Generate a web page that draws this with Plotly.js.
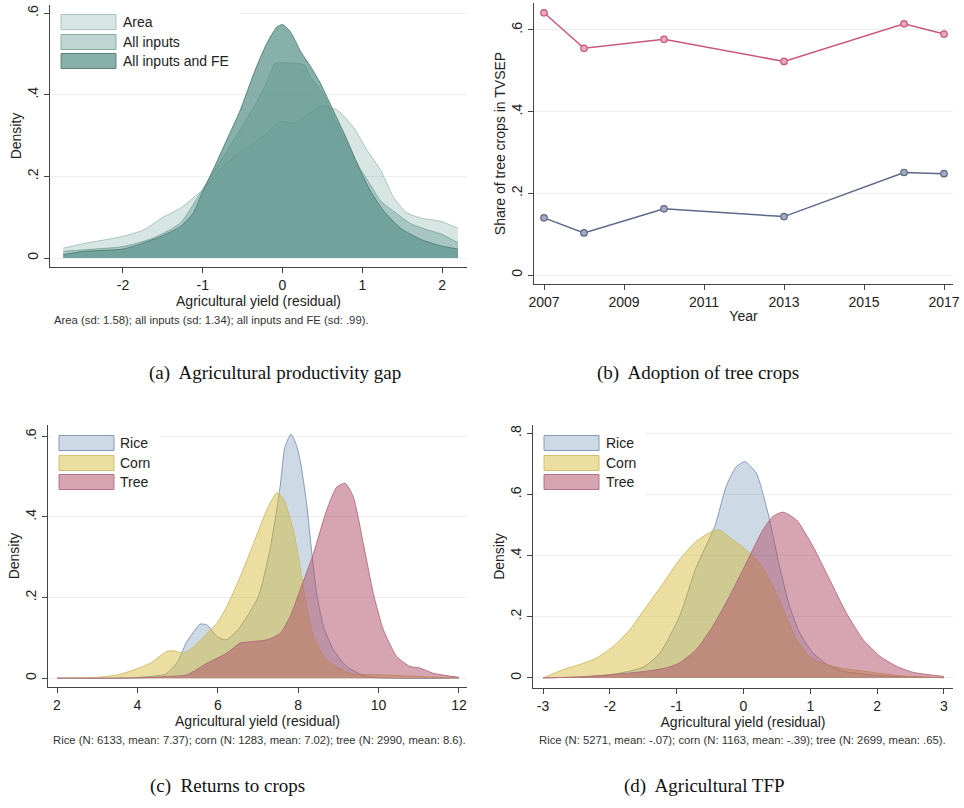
<!DOCTYPE html>
<html>
<head>
<meta charset="utf-8">
<script src="https://cdn.plot.ly/plotly-3.0.1.min.js"></script>
<style>html,body{margin:0;padding:0;background:#fff;}#chart{width:964px;height:808px;}</style>
</head>
<body>
<div id="chart"></div>
<script>
// ---------- Panel (a): Agricultural productivity gap ----------
const aAreaX = [-2.75,-2.5,-2.0,-1.74,-1.5,-1.28,-1.12,-1.0,-0.82,-0.61,-0.36,-0.2,-0.03,0.14,0.31,0.5,0.69,0.89,1.06,1.23,1.39,1.55,1.73,1.98,2.2];
const aAreaY = [0.024,0.035,0.053,0.069,0.1,0.122,0.147,0.167,0.208,0.248,0.281,0.305,0.335,0.33,0.35,0.373,0.362,0.32,0.264,0.215,0.15,0.112,0.098,0.09,0.073];
const aInputsX = [-2.75,-2.5,-2.0,-1.62,-1.28,-1.03,-0.87,-0.61,-0.36,-0.2,-0.09,0.05,0.27,0.35,0.52,0.64,0.81,0.97,1.1,1.23,1.39,1.6,1.8,2.0,2.2];
const aInputsY = [0.016,0.02,0.028,0.049,0.086,0.159,0.21,0.289,0.37,0.43,0.477,0.478,0.473,0.444,0.4,0.345,0.28,0.22,0.18,0.14,0.115,0.085,0.07,0.058,0.037];
const aFEX = [-2.75,-2.5,-2.0,-1.74,-1.5,-1.28,-1.12,-1.0,-0.87,-0.7,-0.53,-0.36,-0.2,-0.07,0.0,0.1,0.23,0.35,0.47,0.64,0.81,0.97,1.1,1.27,1.48,1.73,1.98,2.2];
const aFEY = [0.008,0.016,0.022,0.037,0.055,0.077,0.11,0.163,0.216,0.289,0.362,0.452,0.525,0.566,0.572,0.554,0.505,0.47,0.43,0.36,0.289,0.216,0.165,0.115,0.073,0.046,0.03,0.022];
const aNames = ["Area","All inputs","All inputs and FE"];
const aTicks = [-2,-1,0,1,2];
const aYTicks = [0,0.2,0.4,0.6];
const aYText = ["0",".2",".4",".6"];

// ---------- Panel (b): Adoption of tree crops ----------
const bYears = [2007,2008,2010,2013,2016,2017];
const bRed = [0.642,0.555,0.577,0.523,0.615,0.590];
const bBlue = [0.140,0.103,0.162,0.143,0.251,0.248];
const bTicks = [2007,2009,2011,2013,2015,2017];
const bYTicks = [0,0.2,0.4,0.6];
const bYText = ["0",".2",".4",".6"];

// ---------- Panel (c): Returns to crops ----------
const cRiceX = [2.0,3.0,4.0,4.7,5.0,5.2,5.4,5.56,5.73,5.98,6.2,6.5,7.0,7.3,7.55,7.67,7.82,7.95,8.05,8.21,8.34,8.46,8.63,8.88,9.21,9.7,12];
const cRiceY = [0,0,0.002,0.01,0.04,0.085,0.115,0.134,0.132,0.103,0.095,0.12,0.2,0.32,0.474,0.573,0.605,0.58,0.54,0.433,0.31,0.21,0.128,0.07,0.029,0.004,0];
const cCornX = [2.0,3.0,3.5,3.9,4.32,4.73,4.9,5.15,5.4,5.73,5.98,6.22,6.56,6.89,7.22,7.47,7.63,7.88,8.05,8.21,8.38,8.71,9.29,10.12,10.95,12];
const cCornY = [0,0.002,0.008,0.02,0.037,0.066,0.068,0.062,0.078,0.111,0.136,0.177,0.252,0.334,0.417,0.46,0.446,0.367,0.276,0.177,0.103,0.045,0.012,0.008,0.004,0];
const cTreeX = [2.0,3.9,4.73,5.23,5.73,6.22,6.56,6.89,7.22,7.55,7.8,8.05,8.38,8.71,8.96,9.17,9.37,9.62,9.87,10.12,10.45,10.78,11.03,11.36,12];
const cTreeY = [0,0,0.004,0.008,0.037,0.062,0.087,0.091,0.095,0.111,0.153,0.219,0.309,0.417,0.474,0.483,0.45,0.334,0.21,0.12,0.054,0.029,0.025,0.012,0.002];
const cTicks = [2,4,6,8,10,12];
const cYTicks = [0,0.2,0.4,0.6];
const cYText = ["0",".2",".4",".6"];

// ---------- Panel (d): Agricultural TFP ----------
const dRiceX = [-3,-2.5,-2,-1.5,-1.25,-0.96,-0.71,-0.43,-0.26,-0.11,0.02,0.19,0.29,0.39,0.54,0.69,0.84,1.04,1.29,1.54,2,2.5,3];
const dRiceY = [0,0.003,0.01,0.035,0.082,0.2,0.36,0.495,0.626,0.69,0.707,0.67,0.604,0.517,0.364,0.234,0.147,0.082,0.038,0.02,0.008,0.003,0.001];
const dCornX = [-3,-2.7,-2.45,-2.2,-1.95,-1.7,-1.45,-1.2,-0.96,-0.71,-0.46,-0.36,-0.16,0.04,0.24,0.44,0.64,0.79,1.04,1.44,1.79,2.29,3];
const dCornY = [0,0.027,0.044,0.065,0.103,0.158,0.234,0.31,0.386,0.446,0.481,0.484,0.452,0.419,0.375,0.299,0.201,0.125,0.06,0.033,0.022,0.008,0];
const dTreeX = [-3,-2.45,-1.95,-1.45,-1.15,-0.96,-0.71,-0.46,-0.21,0.04,0.29,0.44,0.59,0.79,1.04,1.29,1.54,1.79,2.04,2.29,2.54,3];
const dTreeY = [0,0.003,0.011,0.022,0.033,0.049,0.092,0.169,0.267,0.375,0.484,0.528,0.542,0.517,0.43,0.321,0.212,0.125,0.071,0.038,0.018,0.005];
const dTicks = [-3,-2,-1,0,1,2,3];
const dYTicks = [0,0.2,0.4,0.6,0.8];
const dYText = ["0",".2",".4",".6",".8"];
const cropNames = ["Rice","Corn","Tree"];

// ---------- styles ----------
const W = 964, H = 808;
const px = v => v / W, py = v => 1 - v / H;
const SANS = "Liberation Sans, Arial, sans-serif";
const SERIF = "Liberation Serif, Times New Roman, serif";
const teal = a => `rgba(95,150,142,${a})`;
const aFill = [teal(0.25), teal(0.4), teal(0.75)];
const aLine = ["rgba(160,192,187,0.9)", "rgba(125,168,161,0.9)", "rgba(80,125,118,0.9)"];
const cropFill = ["rgba(88,132,172,0.3)", "rgba(211,182,44,0.45)", "rgba(175,75,101,0.5)"];
const cropLine = ["rgba(125,145,175,0.9)", "rgba(205,185,105,0.9)", "rgba(175,105,125,0.9)"];

function area(x, y, fill, line, xa, ya, name) {
  return {type: "scatter", mode: "lines", x: x, y: y, fill: "tozeroy", fillcolor: fill,
    line: {color: line, width: 1, shape: "spline", smoothing: 0.6},
    xaxis: xa, yaxis: ya, name: name, showlegend: false, hoverinfo: "skip"};
}

const traces = [
  area(aAreaX, aAreaY, aFill[0], aLine[0], "x", "y", aNames[0]),
  area(aInputsX, aInputsY, aFill[1], aLine[1], "x", "y", aNames[1]),
  area(aFEX, aFEY, aFill[2], aLine[2], "x", "y", aNames[2]),
  {type: "scatter", mode: "lines+markers", x: bYears, y: bRed, xaxis: "x2", yaxis: "y2",
    line: {color: "#c9587a", width: 1.5}, marker: {size: 6.5, color: "#e7a9bb", line: {color: "#c9587a", width: 1.2}},
    showlegend: false, hoverinfo: "skip"},
  {type: "scatter", mode: "lines+markers", x: bYears, y: bBlue, xaxis: "x2", yaxis: "y2",
    line: {color: "#5d6888", width: 1.5}, marker: {size: 6.5, color: "#a4abc0", line: {color: "#5d6888", width: 1.2}},
    showlegend: false, hoverinfo: "skip"},
  area(cRiceX, cRiceY, cropFill[0], cropLine[0], "x3", "y3", cropNames[0]),
  area(cCornX, cCornY, cropFill[1], cropLine[1], "x3", "y3", cropNames[1]),
  area(cTreeX, cTreeY, cropFill[2], cropLine[2], "x3", "y3", cropNames[2]),
  area(dRiceX, dRiceY, cropFill[0], cropLine[0], "x4", "y4", cropNames[0]),
  area(dCornX, dCornY, cropFill[1], cropLine[1], "x4", "y4", cropNames[1]),
  area(dTreeX, dTreeY, cropFill[2], cropLine[2], "x4", "y4", cropNames[2])
];

const tickFont = {family: SANS, size: 14, color: "#222"};
const titleFont = {family: SANS, size: 14, color: "#222"};
function xax(domain, range, ticks, anchor, title) {
  return {domain: domain, range: range, anchor: anchor, tickvals: ticks, ticktext: ticks.map(String),
    showline: true, linecolor: "#444", linewidth: 1, ticks: "outside", ticklen: 5, tickcolor: "#444",
    showgrid: false, zeroline: false, tickfont: tickFont, automargin: false, fixedrange: true,
    title: {text: title, font: titleFont, standoff: 2}};
}
function yax(domain, range, ticks, text, anchor, title, standoff) {
  return {domain: domain, range: range, anchor: anchor, tickvals: ticks, ticktext: text, tickangle: -90,
    showline: true, linecolor: "#444", linewidth: 1, ticks: "outside", ticklen: 5, tickcolor: "#444",
    showgrid: true, gridcolor: "#eceff0", gridwidth: 1, zeroline: false, tickfont: tickFont,
    automargin: false, fixedrange: true, title: {text: title, font: titleFont, standoff: standoff}};
}

const layout = {
  width: W, height: H, margin: {l: 0, r: 0, t: 0, b: 0},
  paper_bgcolor: "#fff", plot_bgcolor: "#fff", showlegend: false,
  font: {family: SANS, color: "#222"},
  xaxis:  xax([px(50), px(467)], [-2.915, 2.313], aTicks, "y", "Agricultural yield (residual)"),
  yaxis:  yax([py(267), py(5)], [-0.022, 0.62], aYTicks, aYText, "x", "Density", 0),
  xaxis2: xax([px(534), px(953)], [2006.75, 2017.225], bTicks, "y2", "Year"),
  yaxis2: yax([py(284), py(3)], [-0.022, 0.666], bYTicks, bYText, "x2", "Share of tree crops in TVSEP", 0),
  xaxis3: xax([px(48), px(467)], [1.776, 12.2], cTicks, "y3", "Agricultural yield (residual)"),
  yaxis3: yax([py(687), py(425)], [-0.022, 0.628], cYTicks, cYText, "x3", "Density", 0),
  xaxis4: xax([px(533), px(953)], [-3.15, 3.135], dTicks, "y4", "Agricultural yield (residual)"),
  yaxis4: yax([py(688), py(425)], [-0.033, 0.827], dYTicks, dYText, "x4", "Density", 0),
  shapes: [],
  annotations: []
};

// legends (white box + swatches + labels)
function legend(x0, x1, ytop, ybot, swX, rows, fills, lines, names, textX) {
  layout.shapes.push({type: "rect", xref: "paper", yref: "paper", layer: "above",
    x0: px(x0), x1: px(x1), y0: py(ybot), y1: py(ytop), fillcolor: "#fff", line: {width: 0}});
  names.forEach((n, i) => {
    layout.shapes.push({type: "rect", xref: "paper", yref: "paper", layer: "above",
      x0: px(swX), x1: px(swX + 55), y0: py(rows[i] + 7.5), y1: py(rows[i] - 7.5),
      fillcolor: fills[i], line: {color: lines[i], width: 1}});
    layout.annotations.push({xref: "paper", yref: "paper", x: px(textX), y: py(rows[i]),
      xanchor: "left", yanchor: "middle", showarrow: false, text: n,
      font: {family: SANS, size: 14, color: "#222"}});
  });
}
legend(54, 240, 5, 72, 61, [22, 42, 61], aFill, aLine, aNames, 121);
legend(52, 160, 426, 494, 59, [443, 463, 482], cropFill, cropLine, cropNames, 118);
legend(538, 645, 426, 500, 544, [443, 463, 482], cropFill, cropLine, cropNames, 604);

// notes and captions
const notes = [
  ["Area (sd: 1.58); all inputs (sd: 1.34); all inputs and FE (sd: .99).", 52, 320],
  ["Rice (N: 6133, mean: 7.37); corn (N: 1283, mean: 7.02); tree (N: 2990, mean: 8.6).", 51, 740],
  ["Rice (N: 5271, mean: -.07); corn (N: 1163, mean: -.39); tree (N: 2699, mean: .65).", 537, 740]
];
notes.forEach(n => layout.annotations.push({xref: "paper", yref: "paper", x: px(n[1]), y: py(n[2]),
  xanchor: "left", yanchor: "middle", showarrow: false, text: n[0],
  font: {family: SANS, size: 11.3, color: "#333"}}));
const captions = [
  ["(a)  Agricultural productivity gap", 147, 373],
  ["(b)  Adoption of tree crops", 595, 373],
  ["(c)  Returns to crops", 148, 786],
  ["(d)  Agricultural TFP", 622, 786]
];
captions.forEach(c => layout.annotations.push({xref: "paper", yref: "paper", x: px(c[1]), y: py(c[2]),
  xanchor: "left", yanchor: "middle", showarrow: false, text: c[0],
  font: {family: SERIF, size: 19, color: "#111"}}));

Plotly.newPlot("chart", traces, layout, {staticPlot: true, displayModeBar: false});
</script>
</body>
</html>
